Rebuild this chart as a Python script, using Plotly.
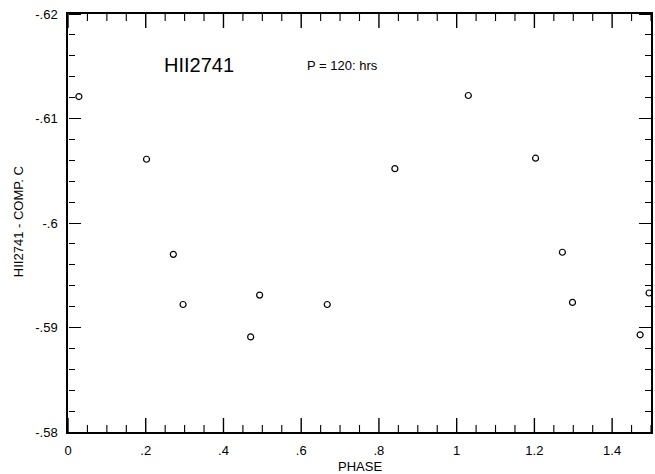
import plotly.graph_objects as go

phase = [0.028, 0.202, 0.271, 0.296, 0.470, 0.493, 0.667, 0.841,
         1.030, 1.203, 1.272, 1.298, 1.472, 1.495]
diff_mag = [-0.6121, -0.6061, -0.5970, -0.5922, -0.5891, -0.5931, -0.5922, -0.6052,
            -0.6122, -0.6062, -0.5972, -0.5924, -0.5893, -0.5933]

x_tickvals = [0, 0.2, 0.4, 0.6, 0.8, 1.0, 1.2, 1.4]
x_ticktext = ["0", ".2", ".4", ".6", ".8", "1", "1.2", "1.4"]
y_tickvals = [-0.62, -0.61, -0.60, -0.59, -0.58]
y_ticktext = ["-.62", "-.61", "-.6", "-.59", "-.58"]
x_minor = [round(i * 0.05, 2) for i in range(31)]
y_minor = [round(-0.62 + i * 0.002, 3) for i in range(21)]

X_RANGE = [0, 1.5]
Y_RANGE = [-0.58, -0.62]

FONT = "Liberation Sans, Arial, Helvetica, sans-serif"

W, H = 655, 474
l, r, t, b = 68, 2, 14, 42
pw, ph = W - l - r, H - t - b

fig = go.Figure()
fig.add_trace(go.Scatter(
    x=phase, y=diff_mag, mode="markers",
    marker=dict(symbol="circle-open", size=6, color="black", line=dict(width=1.2, color="black")),
    cliponaxis=False, showlegend=False, hoverinfo="x+y",
))
# invisible helper traces so the tick-only overlay y axes are drawn
for ya in ("y2", "y3"):
    fig.add_trace(go.Scatter(x=phase, y=diff_mag, xaxis="x", yaxis=ya, mode="markers",
                             marker=dict(opacity=0), showlegend=False, hoverinfo="skip"))

def tick_axis_y(side, pos, major_len, minor_len):
    return dict(range=Y_RANGE, overlaying="y", anchor="free", position=pos, side=side,
                tickmode="array", tickvals=y_tickvals, showticklabels=False,
                ticks="outside", ticklen=major_len, tickwidth=1.3, tickcolor="black",
                showline=False, showgrid=False, zeroline=False,
                minor=dict(tickmode="array", tickvals=y_minor, ticks="outside", ticklen=minor_len,
                           tickwidth=1, tickcolor="black", showgrid=False))

fig.update_layout(
    width=W, height=H,
    margin=dict(l=l, r=r, t=t, b=b),
    paper_bgcolor="white", plot_bgcolor="white",
    font=dict(family=FONT, size=13, color="black"),
    xaxis=dict(
        range=X_RANGE, tickmode="array", tickvals=x_tickvals, ticktext=x_ticktext,
        ticks="", showline=True, linecolor="black", linewidth=1.5, mirror=True,
        showgrid=False, zeroline=False, ticklabelstandoff=6,
        tickfont=dict(size=13),
    ),
    yaxis=dict(
        range=Y_RANGE, tickmode="array", tickvals=y_tickvals, ticktext=y_ticktext,
        ticks="", showline=True, linecolor="black", linewidth=1.5, mirror=True,
        showgrid=False, zeroline=False, ticklabelstandoff=6,
        tickfont=dict(size=13),
    ),
    yaxis2=tick_axis_y("right", 0, 12, 6),
    yaxis3=tick_axis_y("left", 1, 12, 6),
)

# inward x ticks on bottom and top frame, placed at the tick values
for v in x_minor:
    is_major = any(abs(v - m) < 1e-9 for m in x_tickvals)
    frac = (14 if is_major else 7) / ph
    w = 1.4 if is_major else 1.1
    fig.add_shape(type="line", xref="x", yref="y domain", x0=v, x1=v, y0=0, y1=frac,
                  line=dict(color="black", width=w), layer="above")
    fig.add_shape(type="line", xref="x", yref="y domain", x0=v, x1=v, y0=1, y1=1 - frac,
                  line=dict(color="black", width=w), layer="above")

def px(xp):
    return (xp - l) / pw
def py(yp):
    return 1 - (yp - t) / ph

common = dict(xref="paper", yref="paper", showarrow=False, xanchor="center", yanchor="middle")
fig.add_annotation(text="HII2741", x=px(199), y=py(65), font=dict(size=20), **common)
fig.add_annotation(text="P = 120: hrs", x=px(343), y=py(65), font=dict(size=13), **common)
fig.add_annotation(text="PHASE", x=px(361), y=py(466), font=dict(size=13), **common)
fig.add_annotation(text="HII2741 - COMP. C", x=px(19), y=py(222), textangle=-90,
                   font=dict(size=13), **common)

fig.write_html("out.html")
